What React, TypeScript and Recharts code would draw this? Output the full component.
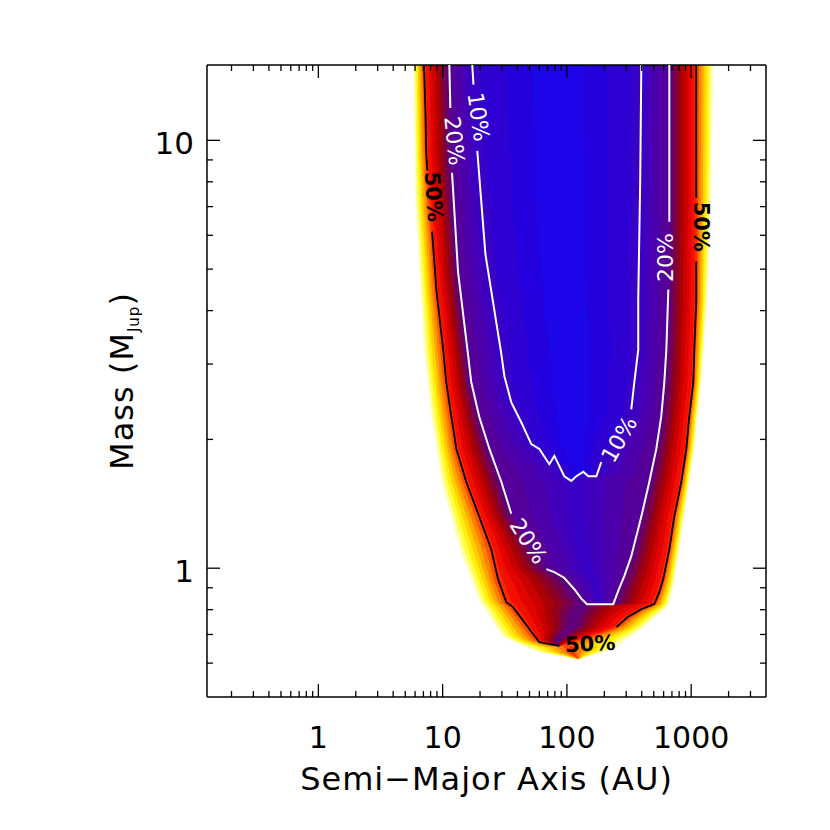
import React from 'react';
import { ComposedChart, Area, Scatter, XAxis, YAxis } from 'recharts';

const X_DOMAIN = [0.127, 4000];
const Y_DOMAIN = [0.5, 15];
const X_MAJOR = [1, 10, 100, 1000];
const X_MINOR = [0.2, 0.3, 0.4, 0.5, 0.6, 0.7, 0.8, 0.9, 2, 3, 4, 5, 6, 7, 8, 9, 20, 30, 40, 50, 60, 70, 80, 90,
  200, 300, 400, 500, 600, 700, 800, 900, 2000, 3000];
const Y_MAJOR = [1, 10];
const Y_MINOR = [0.6, 0.7, 0.8, 0.9, 2, 3, 4, 5, 6, 7, 8, 9];

// outer limit of the coloured region, [a (AU), m (MJup)]
const EDGE = [
  [5.81, 15], [6.03, 7.26], [6.38, 5.41], [7.12, 3.16], [8.11, 2.26], [9.77, 1.59], [13.6, 1.107],
  [19.4, 0.847], [29.7, 0.694], [54.7, 0.64], [124, 0.613], [240, 0.647], [397, 0.72], [655, 0.815],
  [731, 0.927], [880, 1.32], [1059, 1.9], [1205, 2.72], [1349, 4.24], [1452, 7.26], [1506, 15],
];

// contour lines, split where the labels sit
const C50 = [
  [[7.08, 15], [7.26, 11.9], [7.39, 9.25], [7.53, 8.5]],
  [[8.22, 6.12], [8.9, 4.48], [10.1, 3.24], [10.7, 2.72], [11.75, 2.26], [12.9, 1.9], [15.5, 1.59], [19.7, 1.32],
    [24.6, 1.107], [27.9, 0.943], [32.5, 0.833], [36.8, 0.811], [45.4, 0.748], [53.4, 0.702], [60, 0.672], [86.9, 0.658]],
  [[250, 0.728], [307, 0.768], [397, 0.802], [505, 0.824], [554, 0.879], [596, 0.943], [667, 1.107], [731, 1.32],
    [833, 1.59], [914, 1.9], [965, 2.26], [1040, 2.72], [1059, 3.24], [1099, 4.24], [1099, 5.21]],
  [[1099, 7.34], [1099, 15]],
];
const C20 = [
  [[11.32, 15], [11.53, 11.9]],
  [[11.9, 8.4], [13.3, 4.93], [16.0, 3.16], [17.0, 2.72], [19.7, 2.26], [23.8, 1.9], [29.7, 1.59], [35.7, 1.34]],
  [[68.3, 0.995], [79.2, 0.979], [95, 0.95], [114.8, 0.893], [130, 0.85], [145, 0.824], [236, 0.824], [262, 0.893],
    [290, 0.96], [329.6, 1.067], [397, 1.32], [460, 1.59], [524, 1.9], [574, 2.26], [608, 2.72], [631, 3.24], [655, 4.48]],
  [[667, 6.45], [667, 15]],
];
const C10 = [
  [[17.3, 15], [17.7, 13.5]],
  [[19.0, 9.45], [22.1, 5.41], [29.7, 3.16], [31.4, 2.81], [35.7, 2.44], [43, 2.19], [51.7, 1.95], [60, 1.9],
    [72.2, 1.75], [79.2, 1.83], [95.3, 1.64], [108.4, 1.6], [119, 1.64], [135.5, 1.68], [148.7, 1.64], [172.6, 1.64],
    [189, 1.77]],
  [[329.6, 2.35], [348.6, 2.72], [375, 3.24], [375, 4.24], [389, 8.09], [397, 15]],
];

const LABEL_TEXT = ['10%', '20%', '50%', '50%', '20%', '20%', '10%', '50%'];
const LABEL_A = [19.4, 12.4, 8.42, 1205, 619, 48.9, 264, 154];
const LABEL_M = [11.34, 9.97, 7.38, 6.28, 5.32, 1.156, 2.0, 0.665];
const LABEL_ANGLE = [82, 84, 86, 90, -90, 57, -60, -3];

// colour table: detection probability (%) -> colour
const COLOR_P = [100, 95, 88, 80, 70, 60, 53, 50, 45, 40, 35, 30, 25, 21, 17, 13, 9, 4, 0];
const COLOR_HEX = ['#ffffff', '#ffffa0', '#ffff30', '#ffe800', '#ffb000', '#ff7800', '#ff4000', '#ff2800', '#f00800',
  '#d80000', '#b00000', '#900020', '#700058', '#5c0088', '#5000a4', '#4400ba', '#3400cc', '#2200e0', '#1808ee'];
const LEVELS = [99, 93, 86, 79, 72, 65, 58, 52, 48, 44, 40, 36, 32, 28, 24, 20, 17, 14, 11.5, 9, 6, 3];
const STOP_P = [100, 50, 20, 10, 0];

const FONT = 'DejaVu Sans';

const hexRgb = (h) => [1, 3, 5].map(i => parseInt(h.slice(i, i + 2), 16));
const colorAt = (p) => {
  let i = 0;
  while (i < COLOR_P.length - 2 && p < COLOR_P[i + 1]) i++;
  const t = (COLOR_P[i] - p) / (COLOR_P[i] - COLOR_P[i + 1]);
  const a = hexRgb(COLOR_HEX[i]), b = hexRgb(COLOR_HEX[i + 1]);
  const c = a.map((v, j) => Math.round(v + t * (b[j] - v)));
  return `rgb(${c[0]},${c[1]},${c[2]})`;
};

const prep = (pts) => {
  let imin = 0;
  pts.forEach((p, i) => { if (p[1] < pts[imin][1]) imin = i; });
  return { minM: pts[imin][1], left: pts.slice(0, imin + 1), right: pts.slice(imin) };
};
const crossings = (br, M) => {
  const out = [];
  for (let i = 0; i < br.length - 1; i++) {
    const [a1, m1] = br[i], [a2, m2] = br[i + 1];
    if (m1 === m2) { if (m1 === M) out.push(Math.log10(a1), Math.log10(a2)); continue; }
    if ((m1 - M) * (m2 - M) <= 0) {
      const t = (Math.log(M) - Math.log(m1)) / (Math.log(m2) - Math.log(m1));
      out.push(Math.log10(a1) + t * (Math.log10(a2) - Math.log10(a1)));
    }
  }
  return out;
};
const bounds = (c, M) => {
  if (M < c.minM) return null;
  const l = crossings(c.left, M), r = crossings(c.right, M);
  if (!l.length || !r.length) return null;
  return [Math.min(...l), Math.max(...r)];
};

const CONTS = [EDGE, C50.flat(), C20.flat(), C10.flat()].map(prep);
const m0 = CONTS[0].minM;
const masses = [];
for (let i = 0; i <= 160; i++) masses.push(Math.min(15, m0 * Math.pow(15 / m0, i / 160)));
CONTS.forEach(c => masses.push(c.minM, c.minM * 0.999));
const ROWS = Array.from(new Set(masses.filter(m => m >= m0))).sort((a, b) => a - b).map(M => {
  const b = CONTS.map(c => bounds(c, M));
  let inner = null;
  b.forEach(x => { if (x) inner = x; });
  const row = { m: M };
  if (!inner) return row;
  const c = (inner[0] + inner[1]) / 2;
  const stops = b.map(x => x || [c, c]).concat([[c, c]]);
  LEVELS.forEach((p, k) => {
    let i = 0;
    while (i < STOP_P.length - 2 && p < STOP_P[i + 1]) i++;
    const t = (STOP_P[i] - p) / (STOP_P[i] - STOP_P[i + 1]);
    const lo = stops[i][0] + t * (stops[i + 1][0] - stops[i][0]);
    const hi = stops[i][1] + t * (stops[i + 1][1] - stops[i][1]);
    row['b' + k] = [Math.pow(10, lo), Math.pow(10, hi)];
  });
  return row;
});

const X_TICKS = [...X_MINOR, ...X_MAJOR].sort((a, b) => a - b);
const Y_TICKS = [...Y_MINOR, ...Y_MAJOR].sort((a, b) => a - b);
const tickLen = (v, majors) => (majors.includes(v) ? 13 : 6);

const BottomTick = ({ x, y, payload }) => (
  <g>
    <line x1={x} y1={y} x2={x} y2={y - tickLen(payload.value, X_MAJOR)} stroke="#000" strokeWidth={1.3} />
    {X_MAJOR.includes(payload.value) && (
      <text x={x} y={y + 51} textAnchor="middle" fontSize={30} fontFamily={FONT} fill="#000">{payload.value}</text>
    )}
  </g>
);
const TopTick = ({ x, y, payload }) => (
  <line x1={x} y1={y} x2={x} y2={y + tickLen(payload.value, X_MAJOR)} stroke="#000" strokeWidth={1.3} />
);
const LeftTick = ({ x, y, payload }) => (
  <g>
    <line x1={x} y1={y} x2={x + tickLen(payload.value, Y_MAJOR)} y2={y} stroke="#000" strokeWidth={1.3} />
    {Y_MAJOR.includes(payload.value) && (
      <text x={x - 13} y={y + 14} textAnchor="end" fontSize={31} fontFamily={FONT} fill="#000">{payload.value}</text>
    )}
  </g>
);
const RightTick = ({ x, y, payload }) => (
  <line x1={x} y1={y} x2={x - tickLen(payload.value, Y_MAJOR)} y2={y} stroke="#000" strokeWidth={1.3} />
);

const XTitle = (props) => {
  const vb = props.viewBox || { x: 207, y: 697, width: 559 };
  return (
    <text x={vb.x + vb.width / 2} y={vb.y + 93} textAnchor="middle" fontSize={32} letterSpacing={1}
      fontFamily={FONT} fill="#000">
      Semi−Major Axis (AU)
    </text>
  );
};
const YTitle = (props) => {
  const vb = props.viewBox || { x: 206, y: 65, width: 1, height: 632 };
  return (
    <text transform={`translate(${vb.x + vb.width - 74}, ${vb.y + vb.height / 2}) rotate(-90)`} textAnchor="middle"
      fontSize={32} letterSpacing={1} fontFamily={FONT} fill="#000">
      Mass (M<tspan fontSize={15} dy={6}>Jup</tspan><tspan dy={-6}>)</tspan>
    </text>
  );
};

const LabelShape = (props) => {
  const { cx, cy, payload } = props;
  const dark = payload.t === '50%';
  return (
    <text x={cx} y={cy} transform={`rotate(${payload.r} ${cx} ${cy})`} textAnchor="middle" dominantBaseline="central"
      fontSize={dark ? 21 : 22} fontWeight={dark ? 'bold' : 'normal'} fontFamily={FONT} fill={dark ? '#000' : '#fff'}>
      {payload.t}
    </text>
  );
};

const labelData = LABEL_TEXT.map((t, i) => ({ a: LABEL_A[i], m: LABEL_M[i], t, r: LABEL_ANGLE[i] }));
const toPts = (seg) => seg.map(([a, m]) => ({ a, m }));
const axisLine = { stroke: '#000', strokeWidth: 1.5 };

export default function App() {
  return (
    <div style={{ position: 'absolute', left: 0, top: 0, width: 830, height: 830, background: '#fff' }}>
      <ComposedChart width={830} height={830} data={ROWS} layout="vertical"
        margin={{ top: 64, right: 63, bottom: 132, left: 206 }}>
        {LEVELS.map((p, k) => (
          <Area key={'lv' + k} dataKey={'b' + k} type="linear" stroke="none" fill={colorAt(k < LEVELS.length - 1 ? (p + LEVELS[k + 1]) / 2 : p / 2)}
            fillOpacity={1} isAnimationActive={false} dot={false} activeDot={false} />
        ))}
        {C50.map((seg, i) => (
          <Scatter key={'c50' + i} data={toPts(seg)} fill="none" line={{ stroke: '#000', strokeWidth: 1.8 }}
            shape={() => <g />} isAnimationActive={false} />
        ))}
        {C20.map((seg, i) => (
          <Scatter key={'c20' + i} data={toPts(seg)} fill="none" line={{ stroke: '#fff', strokeWidth: 2 }}
            shape={() => <g />} isAnimationActive={false} />
        ))}
        {C10.map((seg, i) => (
          <Scatter key={'c10' + i} data={toPts(seg)} fill="none" line={{ stroke: '#fff', strokeWidth: 2 }}
            shape={() => <g />} isAnimationActive={false} />
        ))}
        <Scatter data={labelData} fill="#000" shape={LabelShape} isAnimationActive={false} />
        <XAxis dataKey="a" type="number" scale="log" domain={X_DOMAIN} allowDataOverflow ticks={X_TICKS} interval={0}
          height={1} tickSize={0} tickMargin={0} tickLine={false} axisLine={axisLine} tick={BottomTick}
          label={<XTitle />} />
        <XAxis xAxisId="top" orientation="top" dataKey="a" type="number" scale="log" domain={X_DOMAIN} allowDataOverflow
          ticks={X_TICKS} interval={0} height={1} tickSize={0} tickMargin={0} tickLine={false} axisLine={axisLine}
          tick={TopTick} />
        <YAxis dataKey="m" type="number" scale="log" domain={Y_DOMAIN} allowDataOverflow reversed ticks={Y_TICKS}
          interval={0} width={1} tickSize={0} tickMargin={0} tickLine={false} axisLine={axisLine} tick={LeftTick}
          label={<YTitle />} />
        <YAxis yAxisId="right" orientation="right" dataKey="m" type="number" scale="log" domain={Y_DOMAIN} reversed
          allowDataOverflow ticks={Y_TICKS} interval={0} width={1} tickSize={0} tickMargin={0} tickLine={false}
          axisLine={axisLine} tick={RightTick} />
      </ComposedChart>
    </div>
  );
}
